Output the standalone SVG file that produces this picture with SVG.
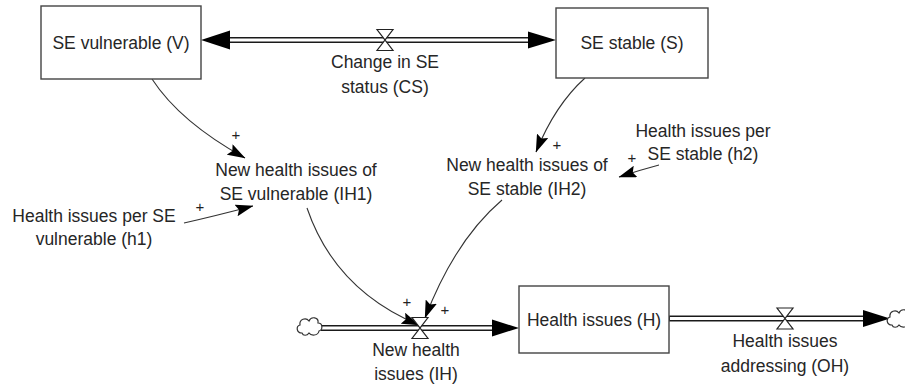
<svg xmlns="http://www.w3.org/2000/svg" width="905" height="385" viewBox="0 0 905 385">
<style>
  text { font-family: "Liberation Sans", Arial, sans-serif; font-size: 17.5px; fill: #262626; text-anchor: middle; }
  .stock { fill: #ffffff; stroke: #444444; stroke-width: 1.4; }
  .pipeO { stroke: #1a1a1a; stroke-width: 6; fill: none; }
  .pipeI { stroke: #ffffff; stroke-width: 3.2; fill: none; }
  .head { fill: #000000; }
  .link { fill: none; stroke: #333333; stroke-width: 1.1; marker-end: url(#ah); }
  .valve { fill: #ffffff; stroke: #222222; stroke-width: 1.2; stroke-linejoin: miter; }
  .cloud { fill: #ffffff; stroke: #333333; stroke-width: 1.2; }
  .sign { font-size: 15px; fill: #222222; }
</style>
<defs>
  <marker id="ah" markerUnits="userSpaceOnUse" viewBox="0 0 18 12" markerWidth="18" markerHeight="12" refX="17.5" refY="6" orient="auto">
    <path d="M0,0 L18,6 L0,12 L3,6 Z" fill="#000000"/>
  </marker>
  <path id="valveShape" class="valve" d="M-8,-10.5 L8,-10.5 L-8,10.5 L8,10.5 Z"/>
  <path id="cloudShape" class="cloud" d="M-8,7 C-14,7 -14,0 -10,-1 C-11,-7 -4,-9 -1,-5 C1,-10 9,-9 8,-3 C13,-3 13,4 9,5 C8,10 1,10 -1,7 C-3,10 -7,10 -8,7 Z"/>
</defs>

<g id="connectors">
  <g id="flow-CS">
    <line class="pipeO" x1="228" y1="40" x2="531" y2="40"/>
    <line class="pipeI" x1="226" y1="40" x2="533" y2="40"/>
    <polygon class="head" points="201,40 230,30.5 230,49.5"/>
    <polygon class="head" points="556,40 528,31.5 528,48.5"/>
  </g>
  <g id="flow-IH">
    <line class="pipeO" x1="321" y1="328" x2="496" y2="328"/>
    <line class="pipeI" x1="319" y1="328" x2="498" y2="328"/>
    <polygon class="head" points="519,328 492,319.5 492,336.5"/>
  </g>
  <g id="flow-OH">
    <line class="pipeO" x1="669" y1="318.5" x2="866" y2="318.5"/>
    <line class="pipeI" x1="670" y1="318.5" x2="868" y2="318.5"/>
    <polygon class="head" points="890,318.5 863,310 863,327"/>
  </g>
  <path class="link" d="M152,79 Q180,122 245,158"/>
  <path class="link" d="M585,78 Q555,105 536,152"/>
  <path class="link" d="M659,165 Q640,170 619,177"/>
  <path class="link" d="M184,223 Q215,216 253,206"/>
  <path class="link" d="M307,208 Q335,290 419,325"/>
  <path class="link" d="M502,200 Q455,240 425,318"/>
  <text class="sign" x="236" y="140">+</text>
  <text class="sign" x="557" y="150">+</text>
  <text class="sign" x="632" y="163">+</text>
  <text class="sign" x="200" y="212">+</text>
  <text class="sign" x="407" y="307">+</text>
  <text class="sign" x="445" y="315">+</text>
</g>

<g id="node-V">
  <rect class="stock" x="41" y="6" width="160" height="73"/>
  <text x="121" y="49">SE vulnerable (V)</text>
</g>
<g id="node-S">
  <rect class="stock" x="556" y="8" width="152" height="70"/>
  <text x="632" y="49">SE stable (S)</text>
</g>
<g id="node-H">
  <rect class="stock" x="519" y="286" width="150" height="67"/>
  <text x="594" y="326">Health issues (H)</text>
</g>
<g id="node-CS">
  <use href="#valveShape" x="385" y="40"/>
  <text x="385" y="68">Change in SE</text>
  <text x="385" y="93">status (CS)</text>
</g>
<g id="node-IH">
  <use href="#valveShape" x="420" y="328"/>
  <text x="416" y="356">New health</text>
  <text x="416" y="380">issues (IH)</text>
</g>
<g id="node-OH">
  <use href="#valveShape" x="785" y="318.5"/>
  <text x="785" y="347">Health issues</text>
  <text x="785" y="372">addressing (OH)</text>
</g>
<g id="node-IH1">
  <text x="296" y="176">New health issues of</text>
  <text x="296" y="200">SE vulnerable (IH1)</text>
</g>
<g id="node-IH2">
  <text x="527" y="171">New health issues of</text>
  <text x="527" y="195">SE stable (IH2)</text>
</g>
<g id="node-h1">
  <text x="94" y="222">Health issues per SE</text>
  <text x="94" y="245">vulnerable (h1)</text>
</g>
<g id="node-h2">
  <text x="703" y="137">Health issues per</text>
  <text x="703" y="160">SE stable (h2)</text>
</g>
<g id="cloud-source">
  <use href="#cloudShape" x="310" y="326"/>
</g>
<g id="cloud-sink">
  <use href="#cloudShape" x="900" y="318"/>
</g>
</svg>
